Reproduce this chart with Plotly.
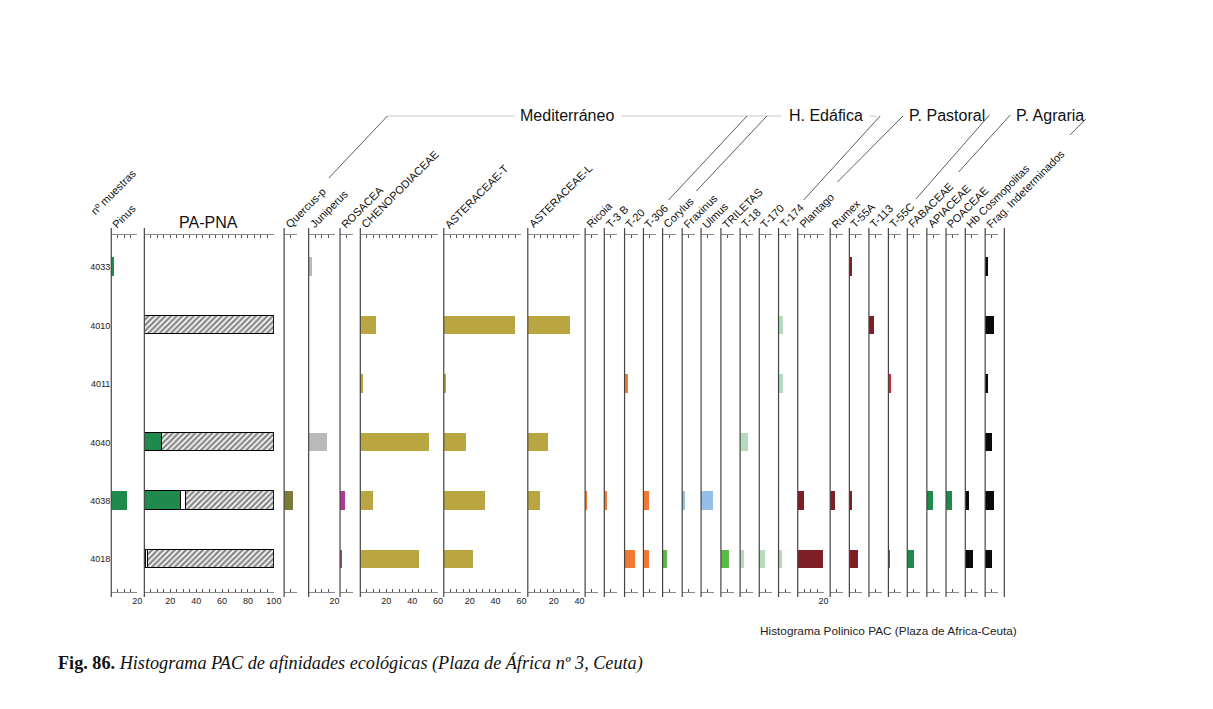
import plotly.graph_objects as go

W, H = 1213, 709

# samples, top to bottom
samples = ["4033", "4010", "4011", "4040", "4038", "4018"]

# percentages (None = no bar)
pinus = [2.4, None, None, None, 12.3, None]
pa_pinus = [None, None, None, 13.8, 28.7, 1.6]
pa_other = [None, None, None, None, 3.6, 1.4]
pa_nap = [None, 100, None, 86.2, 67.7, 97]
quercus_p = [None, None, None, None, 6.9, None]
juniperus = [2.3, None, None, 14.1, None, None]
rosacea = [None, None, None, None, 3.6, 1.5]
chenopodiaceae = [None, 12.3, 2.3, 53.3, 10, 45.9]
asteraceae_t = [None, 54.8, 1.8, 16.9, 31.8, 22]
asteraceae_l = [None, 32.3, None, 15.6, 9.5, None]
ricoia = [None, None, None, None, 1.5, None]
t_3b = [None, None, None, None, 2, None]
t_20 = [None, None, 2, None, None, 7.4]
t_306 = [None, None, None, None, 4.4, 4.9]
corylus = [None, None, None, None, None, 3]
fraxinus = [None, None, None, None, 2.5, None]
ulmus = [None, None, None, None, 9.2, None]
triletas = [None, None, None, None, None, 6]
t_18 = [None, None, None, 6, None, 3]
t_170 = [None, None, None, None, None, 4.4]
t_174 = [None, 2.8, 2.8, None, None, 2.5]
plantago = [None, None, None, None, 4.4, 19]
rumex = [None, None, None, None, 3.8, None]
t_55a = [2.3, None, None, None, 2.3, 6.7]
t_113 = [None, 3.8, None, None, None, None]
t_55c = [None, None, 2.3, None, None, 1.3]
fabaceae = [None, None, None, None, None, 5.1]
apiaceae = [None, None, None, None, 4.4, None]
poaceae = [None, None, None, None, 4.9, None]
hb_cosmopolitas = [None, None, None, None, 3.1, 5.9]
frag_indet = [2.5, 7.2, 2.3, 5.5, 6.9, 5.6]

GREEN = "#1f8a4b"
GOLD = "#b9a640"
ORANGE = "#f07a33"
LGREEN = "#5cb947"
PALE = "#b5dcbc"
BLUE = "#94bfe6"
DRED = "#7d1f24"
RED = "#e02030"
BLACK = "#0b0b0b"

# name, left edge (px), axis max (%), series
panels = [
    ("Pinus", 112, 20, [(pinus, GREEN)]),
    ("PA-PNA", 145.3, 100, None),
    ("Quercus-p", 286, 10, [(quercus_p, "#7d7a3a")]),
    ("Juniperus", 310.7, 20, [(juniperus, "#b9b9b9")]),
    ("ROSACEA", 342.3, 10, [(rosacea, "#b2379a")]),
    ("CHENOPODIACEAE", 362.7, 60, [(chenopodiaceae, GOLD)]),
    ("ASTERACEAE-T", 446.7, 60, [(asteraceae_t, GOLD)]),
    ("ASTERACEAE-L", 531.3, 40, [(asteraceae_l, GOLD)]),
    ("Ricoia", 589, 10, [(ricoia, ORANGE)]),
    ("T-3 B", 608.3, 10, [(t_3b, ORANGE)]),
    ("T-20", 628.7, 10, [(t_20, ORANGE)]),
    ("T-306", 647.7, 10, [(t_306, ORANGE)]),
    ("Corylus", 667, 10, [(corylus, LGREEN)]),
    ("Fraxinus", 686.7, 10, [(fraxinus, BLUE)]),
    ("Ulmus", 705.7, 10, [(ulmus, BLUE)]),
    ("TRILETAS", 725.7, 10, [(triletas, LGREEN)]),
    ("T-18", 745, 10, [(t_18, PALE)]),
    ("T-170", 764.3, 10, [(t_170, PALE)]),
    ("T-174", 783.7, 10, [(t_174, PALE)]),
    ("Plantago", 803, 20, [(plantago, DRED)]),
    ("Rumex", 835.7, 10, [(rumex, DRED)]),
    ("T-55A", 855, 10, [(t_55a, DRED)]),
    ("T-113", 874.7, 10, [(t_113, DRED)]),
    ("T-55C", 894.3, 10, [(t_55c, RED)]),
    ("FABACEAE", 913.3, 10, [(fabaceae, GREEN)]),
    ("APIACEAE", 933, 10, [(apiaceae, GREEN)]),
    ("POACEAE", 952.3, 10, [(poaceae, GREEN)]),
    ("Hb Cosmopolitas", 971.7, 10, [(hb_cosmopolitas, BLACK)]),
    ("Frag. Indeterminados", 991.7, 10, [(frag_indet, BLACK)]),
]
END_LINE = 1011
PX_PER_UNIT = 1.304

TOP_AX, BOT_AX = 235.3, 591.7


def fx(v):
    return v / W


def fy(v):
    return 1 - v / H


fig = go.Figure()
shapes = []
annotations = []
layout = {}

for i, (name, left, xmax, series) in enumerate(panels):
    ax = "x" if i == 0 else f"x{i + 1}"
    key = "xaxis" if i == 0 else f"xaxis{i + 1}"
    bar_kw = dict(y=samples, orientation="h", xaxis=ax, yaxis="y",
                  width=0.316, showlegend=False)
    if series is None:
        # PA-PNA: pinus + other AP + hatched NAP
        fig.add_trace(go.Bar(x=pa_pinus, marker=dict(color=GREEN, line=dict(color="black", width=1.2)), **bar_kw))
        fig.add_trace(go.Bar(x=pa_other, marker=dict(color="white", line=dict(color="black", width=1.2)), **bar_kw))
        fig.add_trace(go.Bar(
            x=pa_nap,
            marker=dict(color="white", line=dict(color="black", width=1.4),
                        pattern=dict(shape="/", fgcolor="#111", bgcolor="white",
                                     size=4, solidity=0.6)),
            **bar_kw))
    else:
        for vals, col in series:
            fig.add_trace(go.Bar(x=vals, marker=dict(color=col, line=dict(width=0)), **bar_kw))

    tv = list(range(0, xmax + 1, 5))
    tt = [str(v) if v > 0 and v % 20 == 0 else "" for v in tv]
    layout[key] = dict(
        domain=[fx(left), fx(left + xmax * PX_PER_UNIT)],
        range=[0, xmax], anchor="y", showgrid=False, zeroline=False,
        showline=True, linecolor="#8a8a8a", linewidth=1, mirror="ticks",
        ticks="inside", ticklen=3, tickwidth=1, tickcolor="#555",
        tickvals=tv, ticktext=tt,
        tickfont=dict(family="Liberation Sans", size=9, color="#222"),
        fixedrange=True,
    )

    shapes.append(dict(type="line", xref="paper", yref="paper",
                       x0=fx(left), x1=fx(left), y0=fy(228), y1=fy(597),
                       line=dict(color="#444", width=1.2)))
    if name != "PA-PNA":
        annotations.append(dict(
            text=name, x=fx(left - 4), y=fy(233), xref="paper", yref="paper",
            xanchor="left", yanchor="bottom", textangle=-45, showarrow=False,
            font=dict(family="Liberation Sans", size=11, color="#111")))

shapes.append(dict(type="line", xref="paper", yref="paper",
                   x0=fx(END_LINE), x1=fx(END_LINE), y0=fy(228), y1=fy(597),
                   line=dict(color="#444", width=1.2)))

annotations.append(dict(text="PA-PNA", x=fx(210), y=fy(223), xref="paper", yref="paper",
                        xanchor="center", yanchor="middle", showarrow=False,
                        font=dict(family="Liberation Sans", size=16, color="#111")))
annotations.append(dict(text="nº muestras", x=fx(86), y=fy(220), xref="paper", yref="paper",
                        xanchor="left", yanchor="bottom", textangle=-45, showarrow=False,
                        font=dict(family="Liberation Sans", size=11, color="#111")))

# ecological groups
groups = [("Mediterráneo", 571), ("H. Edáfica", 831), ("P. Pastoral", 953), ("P. Agraria", 1057)]
for g, cx in groups:
    annotations.append(dict(text=g, x=fx(cx), y=fy(116), xref="paper", yref="paper",
                            xanchor="center", yanchor="middle", showarrow=False,
                            font=dict(family="Liberation Sans", size=16, color="#111")))

for x0, x1 in [(390, 518), (625, 786), (875, 882)]:
    shapes.append(dict(type="line", xref="paper", yref="paper",
                       x0=fx(x0), x1=fx(x1), y0=fy(116), y1=fy(116),
                       line=dict(color="#c8c8c8", width=1)))
diagonals = [((390, 116), (331, 178)), ((752, 116), (673, 200)), ((772, 116), (701, 191)),
             ((886, 116), (809, 200)), ((909, 116), (843, 182)), ((996, 115), (922, 199)),
             ((1017, 115), (965, 172)), ((1093, 119), (1077, 135))]
for (xa, ya), (xb, yb) in diagonals:
    shapes.append(dict(type="line", xref="paper", yref="paper",
                       x0=fx(xa), x1=fx(xb), y0=fy(ya), y1=fy(yb),
                       line=dict(color="#333", width=0.8)))

annotations.append(dict(text="Histograma Polinico PAC (Plaza de Africa-Ceuta)",
                        x=fx(763), y=fy(631), xref="paper", yref="paper",
                        xanchor="left", yanchor="middle", showarrow=False,
                        font=dict(family="Liberation Sans", size=11.8, color="#222")))
annotations.append(dict(text="<b>Fig. 86.</b> <i>Histograma PAC de afinidades ecológicas (Plaza de África nº 3, Ceuta)</i>",
                        x=fx(56), y=fy(663), xref="paper", yref="paper",
                        xanchor="left", yanchor="middle", showarrow=False,
                        font=dict(family="Liberation Serif", size=18.2, color="#111")))

fig.update_layout(
    width=W, height=H, margin=dict(l=0, r=0, t=0, b=0),
    paper_bgcolor="white", plot_bgcolor="white",
    barmode="stack", bargap=0, showlegend=False,
    yaxis=dict(domain=[fy(BOT_AX), fy(TOP_AX)], type="category",
               categoryorder="array", categoryarray=samples,
               range=[5.554, -0.542], showgrid=False, zeroline=False,
               showline=False, ticks="", fixedrange=True,
               tickfont=dict(family="Liberation Sans", size=9, color="#222")),
    shapes=shapes, annotations=annotations,
    **layout,
)

# drop the default page margin so the figure sits at the window origin
page_fix = ("document.documentElement.style.margin='0';"
            "document.documentElement.style.overflow='hidden';"
            "document.body.style.margin='0';"
            "document.body.style.overflow='hidden';")
fig.write_html("out.html", post_script=page_fix,
               config={"displayModeBar": False})
